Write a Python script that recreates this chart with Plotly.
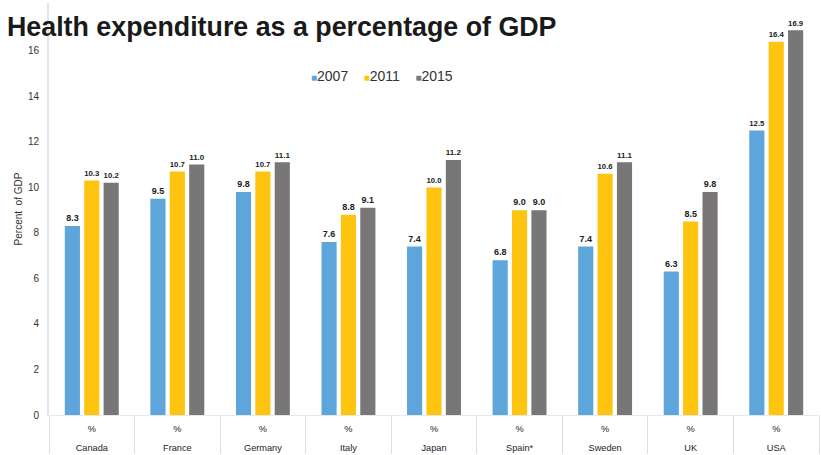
import plotly.graph_objects as go

countries = ["Canada", "France", "Germany", "Italy", "Japan", "Spain*", "Sweden", "UK", "USA"]
# second label row under every country; the trailing blank line spaces the rows apart
unit_row = ["%<br>\u00a0"] * len(countries)
years = ["2007", "2011", "2015"]
v2007 = [8.3, 9.5, 9.8, 7.6, 7.4, 6.8, 7.4, 6.3, 12.5]
v2011 = [10.3, 10.7, 10.7, 8.8, 10.0, 9.0, 10.6, 8.5, 16.4]
v2015 = [10.2, 11.0, 11.1, 9.1, 11.2, 9.0, 11.1, 9.8, 16.9]
y_ticks = [0, 2, 4, 6, 8, 10, 12, 14, 16]

colors = ["#5da5db", "#fec40f", "#787676"]

fig = go.Figure()
for name, vals, col in zip(years, [v2007, v2011, v2015], colors):
    fig.add_trace(go.Bar(
        x=[countries, unit_row],
        y=vals,
        name=name,
        marker=dict(color=col, line=dict(width=0)),
        text=[f"{v:.1f}" for v in vals],
        textposition="outside",
        textfont=dict(family="Arial", size=9, color="#222222", weight="bold"),
        cliponaxis=False,
        showlegend=False,
    ))

# compact legend row: small coloured squares followed by the year
gap = "\u00a0" * 4
legend_text = gap.join(
    f"<span style='color:{c};font-size:10px'>■</span>{y}" for y, c in zip(years, colors)
)
fig.add_annotation(
    text=legend_text,
    xref="paper", yref="paper",
    x=(309 - 49) / 770, y=(415 - 76) / 412,
    xanchor="left", yanchor="middle",
    showarrow=False,
    font=dict(family="Arial", size=14, color="#333333"),
)

fig.update_layout(
    width=821,
    height=455,
    margin=dict(l=49, r=2, t=3, b=40),
    paper_bgcolor="white",
    plot_bgcolor="white",
    barmode="group",
    bargap=0.32,
    bargroupgap=0.22,
    title=dict(
        text="<b>Health expenditure as a percentage of GDP</b>",
        font=dict(family="Arial", size=26.8, color="#1a1a1a"),
        x=7 / 821, xanchor="left", xref="container",
        y=1 - 27 / 455, yanchor="middle", yref="container",
    ),
)

fig.update_yaxes(
    range=[0, 18.1],
    tickvals=y_ticks,
    ticktext=[str(t) for t in y_ticks],
    tickfont=dict(family="Arial", size=10, color="#333333"),
    showgrid=False,
    zeroline=False,
    showline=True,
    linecolor="#dce6ee",
    linewidth=2,
    ticks="",
    ticklabelstandoff=6,
    automargin=False,
    title=dict(text="Percent  of GDP", font=dict(family="Arial", size=10, color="#333333"), standoff=3),
)

fig.update_xaxes(
    type="multicategory",
    tickfont=dict(family="Arial", size=9.2, color="#222222"),
    showgrid=False,
    showline=True,
    linecolor="#e8e8e8",
    linewidth=1,
    showdividers=True,
    dividercolor="#dedede",
    dividerwidth=1,
    ticks="",
    ticklabelstandoff=5,
    automargin=False,
)

fig.write_html("out.html")
